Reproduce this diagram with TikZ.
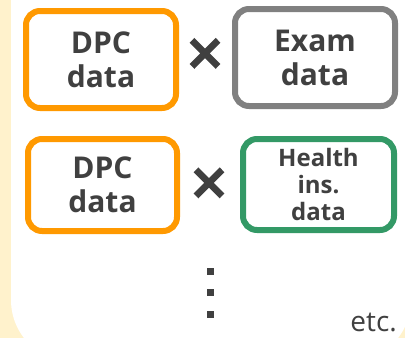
\documentclass[tikz,border=0pt]{standalone}
\usepackage{fontspec}
\setmainfont{Open Sans}
\newfontfamily\crossfont{Open Sans}[FakeBold=4]
\definecolor{panelbg}{HTML}{FFF2CC}
\definecolor{dpcorange}{HTML}{FF9900}
\definecolor{examgray}{HTML}{808080}
\definecolor{insgreen}{HTML}{339966}
\definecolor{ink}{HTML}{404040}
\tikzset{
  databox/.style={draw, line width=6pt, rounded corners=14pt, fill=white,
    text=ink, align=center, inner sep=0pt,
    font=\bfseries\fontsize{30}{34}\selectfont},
  smallbox/.style={databox, font=\bfseries\fontsize{24}{27}\selectfont},
  timessign/.style={text=ink, inner sep=0pt, font=\crossfont\fontsize{62}{62}\selectfont},
  dotsq/.style={fill=ink, draw=none, minimum size=7pt, inner sep=0pt},
}
\begin{document}
\begin{tikzpicture}[x=1pt, y=-1pt]
  \useasboundingbox (0,0) rectangle (405,338);
  \clip (0,0) rectangle (405,338);
  % yellow panel with the white sheet on top
  \fill[panelbg] (0,0) rectangle (405,338);
  \fill[white, rounded corners=62pt] (11,-100) rectangle (411,362);

  % first pair
  \node[databox, draw=dpcorange, minimum width=150pt, minimum height=97pt]
    (dpcA) at (101,59.5) {DPC\\data};
  \node[databox, draw=examgray, minimum width=160pt, minimum height=97pt]
    (exam) at (315,57.5) {Exam\\data};
  \node[timessign] (timesA) at (205,57.5) {×};

  % second pair
  \node[databox, draw=dpcorange, minimum width=149pt, minimum height=92pt]
    (dpcB) at (102.5,185) {DPC\\data};
  \node[smallbox, draw=insgreen, minimum width=151pt, minimum height=91pt]
    (health) at (318.5,184.5) {Health\\ins.\\data};
  \node[timessign] (timesB) at (209,187) {×};

  % vertical ellipsis
  \node[dotsq] (dotA) at (210.5,271.5) {};
  \node[dotsq] (dotB) at (210.5,292.5) {};
  \node[dotsq] (dotC) at (210.5,314) {};

  \node[text=ink, inner sep=0pt, anchor=base east,
    font=\fontsize{28}{28}\selectfont] (etc) at (397,331) {etc.};
\end{tikzpicture}
\end{document}
